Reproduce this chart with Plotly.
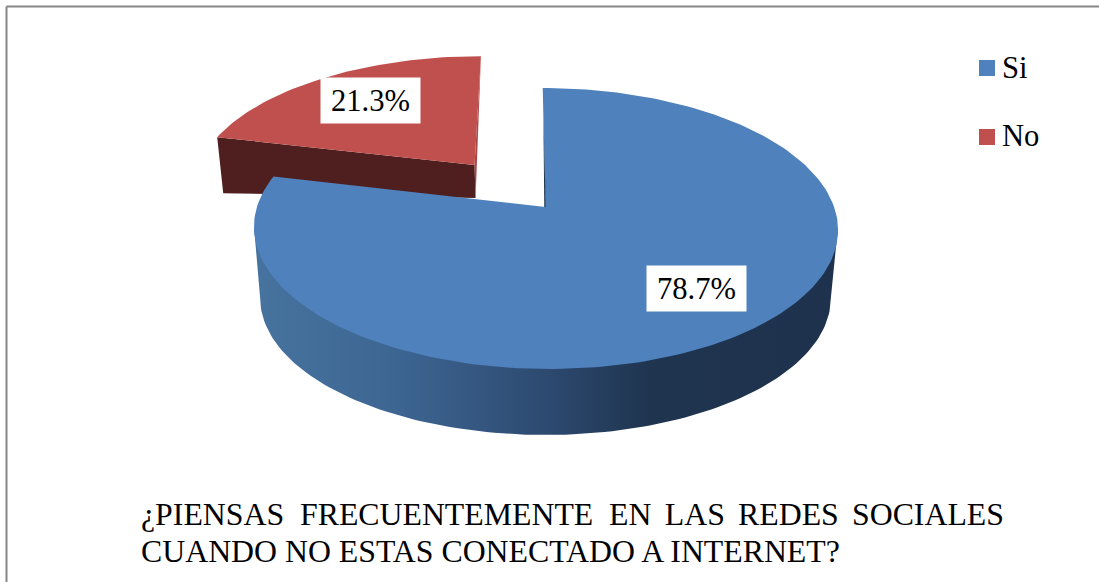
import numpy as np
import plotly.graph_objects as go

categories = ["Si", "No"]
values = [78.7, 21.3]
colors = ["#4f81bd", "#c0504d"]
title_lines = ["¿PIENSAS\u00a0\u00a0FRECUENTEMENTE\u00a0\u00a0EN\u00a0\u2006LAS\u00a0\u2006REDES\u00a0\u2006SOCIALES",
               "CUANDO NO ESTAS CONECTADO A INTERNET?"]
FONT = "Liberation Serif"
FS = 30.6
FS_TITLE = 31.8

# perspective projection of the unit disc on the image
K = 0.153
TOP = dict(cx=545.5, cy=207.0, a=137.2, b=288.6, s=3.2)
BOT = dict(cx=545.5, cy=277.0, a=133.8, b=282.0, s=0.0)
EXPLODE = 0.41


def proj(X, Y, p):
    X, Y = np.asarray(X, float), np.asarray(Y, float)
    w = 1 - K * Y
    return p["cx"] + (p["b"] * X + p["s"] * Y) / w, p["cy"] + p["a"] * Y / w


def unit(theta_deg):
    t = np.radians(theta_deg)
    return np.sin(t), -np.cos(t)


def poly(x, y, color, **kw):
    return go.Scatter(x=list(x), y=list(y), mode="lines", fill="toself", fillcolor=color,
                      line=dict(width=0), hoverinfo="skip", showlegend=False, **kw)


# slice angles from the values
total = sum(values)
end_blue = 360 * values[0] / total
mid_red = (end_blue + 360) / 2
ox, oy = unit(mid_red)
ox, oy = ox * EXPLODE, oy * EXPLODE

fig = go.Figure()

# red slice: wall, sliver, top
lx, ly = unit(end_blue)
tl = proj(lx + ox, ly + oy, TOP)
ta = proj(ox, oy, TOP)
tr = proj(ox, oy - 1, TOP)
fig.add_trace(poly([tl[0], ta[0], ta[0] + 1, tl[0] + 6, tl[0]],
                   [tl[1], ta[1], ta[1] + 33, tl[1] + 56, tl[1]], "#4f1f1f"))
fig.add_trace(poly([tr[0], ta[0], ta[0] + 1, tr[0]],
                   [tr[1], ta[1], ta[1] + 33, tr[1]], "#a84744"))
th = np.linspace(end_blue, 360, 60)
ux, uy = unit(th)
ax_, ay_ = proj(ux + ox, uy + oy, TOP)
fig.add_trace(poly(np.r_[ta[0], ax_, ta[0]], np.r_[ta[1], ay_, ta[1]], colors[1]))

# blue slice: wall with gradient, sliver, top
th = np.linspace(98.8, 261.2, 120)
ux, uy = unit(th)
bx, by = proj(ux, uy, BOT)
txl = proj(-1 / 1.012, 0.15, TOP)
txr = proj(1 / 1.012, 0.15, TOP)
wx = np.r_[txr[0], bx, txl[0], txr[0]]
wy = np.r_[txr[1], by, txl[1], txr[1]]
fig.add_trace(go.Scatter(
    x=list(wx), y=list(wy), mode="lines", fill="toself", line=dict(width=0),
    hoverinfo="skip", showlegend=False,
    fillgradient=dict(type="horizontal", start=254, stop=838, colorscale=[
        [0, "#47739f"], [0.25, "#3d6592"], [0.5, "#2d4a70"], [0.68, "#1f344f"], [1, "#1e324d"]]),
))
th = np.linspace(0, end_blue, 200)
ux, uy = unit(th)
ax_, ay_ = proj(ux, uy, TOP)
apex = proj(0, 0, TOP)
fig.add_trace(poly(np.r_[apex[0], ax_, apex[0]], np.r_[apex[1], ay_, apex[1]], colors[0]))
sl = proj(0, -0.75, TOP)
fig.add_trace(poly([sl[0], apex[0] + 0.3, apex[0] - 1.2, sl[0]],
                   [sl[1], apex[1], apex[1], sl[1]], "#1f344f"))

# legend
fig.add_trace(go.Scatter(x=[987, 987], y=[68, 137], mode="markers", hoverinfo="skip", showlegend=False,
                         marker=dict(symbol="square", size=16, color=colors, line=dict(width=0))))

annotations = []
for name, yy in zip(categories, [68, 136]):
    annotations.append(dict(x=1000, y=yy, text=name, xanchor="left", yanchor="middle", showarrow=False,
                            font=dict(family=FONT, size=FS, color="#000")))
for v, cx, cy in zip(values, [696.5, 370.5], [288.5, 100.5]):
    annotations.append(dict(x=cx, y=cy, text=f"{v}%", showarrow=False, width=99, height=45, align="center",
                            xanchor="center", yanchor="middle", bgcolor="#fff", borderpad=0,
                            font=dict(family=FONT, size=FS, color="#000")))
for line, yy in zip(title_lines, [514, 551]):
    annotations.append(dict(x=139, y=yy, text=line, xanchor="left", yanchor="middle", showarrow=False,
                            font=dict(family=FONT, size=FS_TITLE, color="#000")))

fig.update_layout(
    width=1099, height=582, autosize=False, margin=dict(l=0, r=0, t=0, b=0),
    paper_bgcolor="#fff", plot_bgcolor="#fff", showlegend=False,
    xaxis=dict(range=[0, 1099], visible=False, fixedrange=True),
    yaxis=dict(range=[582, 0], visible=False, fixedrange=True),
    annotations=annotations,
    shapes=[
        dict(type="line", x0=6.5, x1=6.5, y0=582, y1=6.5, line=dict(color="#868686", width=2)),
        dict(type="line", x0=6.5, x1=1099, y0=6.5, y1=6.5, line=dict(color="#868686", width=2)),
    ],
)
fig.write_html("out.html", config={"displayModeBar": False},
               post_script="document.body.style.margin='0';document.documentElement.style.overflow='hidden';")
